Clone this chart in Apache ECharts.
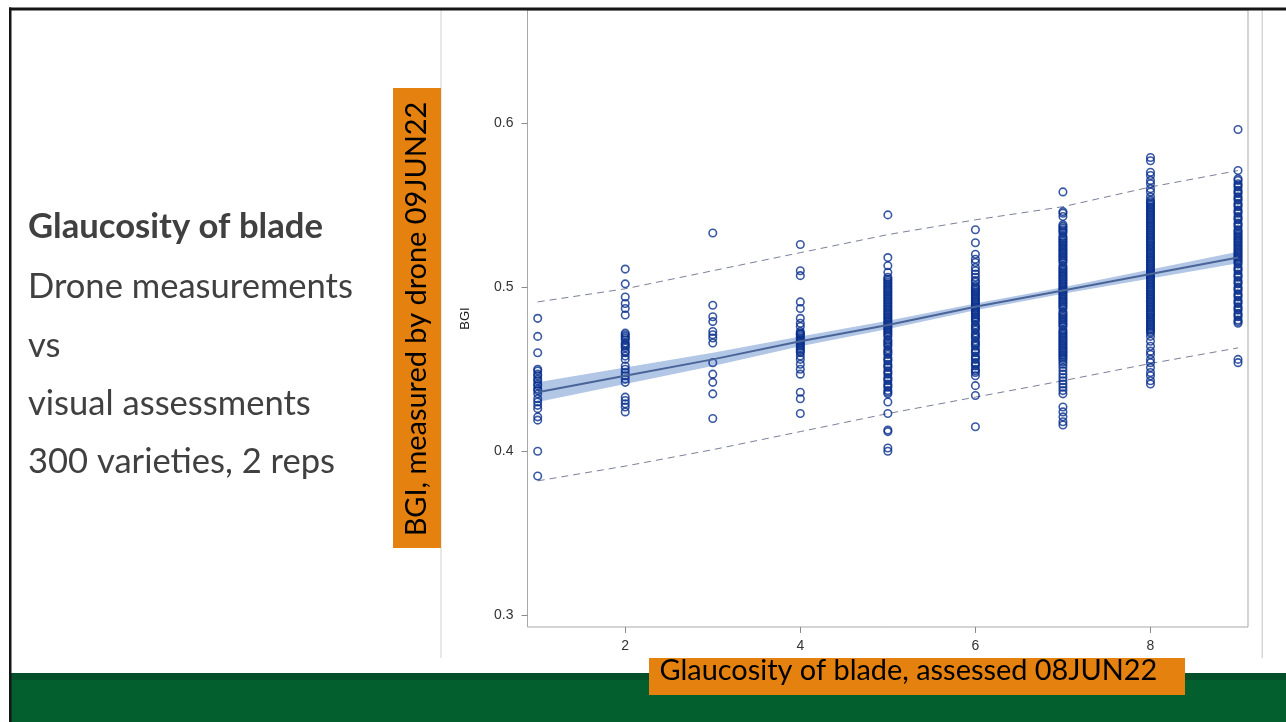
<!DOCTYPE html>
<html><head><meta charset="utf-8">
<script src="https://cdn.jsdelivr.net/npm/echarts@6/dist/echarts.min.js"></script>
<style>html,body{margin:0;padding:0;background:#fff}#c{width:1286px;height:722px}</style>
</head><body><div id="c"></div>
<script>
// ---- data ----
const scores = [1, 2, 3, 4, 5, 6, 7, 8, 9];
const bgiAt1 = [0.481, 0.470, 0.460, 0.450, 0.449, 0.447, 0.446, 0.444, 0.443, 0.441, 0.440, 0.438, 0.437, 0.435, 0.432, 0.430, 0.428, 0.426, 0.421, 0.419, 0.400, 0.385];
const bgiAt2 = [0.511, 0.502, 0.494, 0.490, 0.487, 0.483, 0.472, 0.471, 0.470, 0.469, 0.468, 0.466, 0.465, 0.464, 0.463, 0.461, 0.460, 0.458, 0.456, 0.452, 0.450, 0.448, 0.446, 0.444, 0.442, 0.433, 0.431, 0.429, 0.427, 0.424];
const bgiAt3 = [0.533, 0.489, 0.482, 0.479, 0.473, 0.471, 0.469, 0.466, 0.454, 0.447, 0.442, 0.435, 0.420];
const bgiAt4 = [0.526, 0.510, 0.507, 0.491, 0.487, 0.481, 0.478, 0.476, 0.473, 0.472, 0.4715, 0.471, 0.470, 0.469, 0.468, 0.467, 0.466, 0.465, 0.464, 0.463, 0.462, 0.461, 0.460, 0.458, 0.456, 0.453, 0.450, 0.447, 0.436, 0.432, 0.423];
const bgiAt5 = [0.544, 0.518, 0.513, 0.509, 0.506, 0.505, 0.504, 0.503, 0.502, 0.501, 0.500, 0.499, 0.498, 0.497, 0.496, 0.495, 0.494, 0.493, 0.492, 0.491, 0.490, 0.489, 0.488, 0.487, 0.486, 0.485, 0.484, 0.483, 0.482, 0.481, 0.480, 0.479, 0.478, 0.477, 0.476, 0.475, 0.474, 0.473, 0.472, 0.471, 0.470, 0.468, 0.467, 0.466, 0.465, 0.464, 0.462, 0.461, 0.460, 0.459, 0.457, 0.456, 0.455, 0.453, 0.452, 0.451, 0.449, 0.448, 0.447, 0.445, 0.444, 0.443, 0.441, 0.440, 0.439, 0.437, 0.436, 0.435, 0.430, 0.423, 0.413, 0.412, 0.402, 0.400];
const bgiAt6 = [0.535, 0.527, 0.520, 0.517, 0.515, 0.512, 0.510, 0.508, 0.506, 0.504, 0.503, 0.501, 0.500, 0.499, 0.498, 0.497, 0.496, 0.495, 0.494, 0.493, 0.492, 0.491, 0.490, 0.489, 0.488, 0.487, 0.486, 0.485, 0.484, 0.483, 0.482, 0.481, 0.480, 0.479, 0.477, 0.476, 0.475, 0.474, 0.472, 0.471, 0.470, 0.469, 0.467, 0.466, 0.465, 0.464, 0.462, 0.461, 0.460, 0.458, 0.457, 0.456, 0.454, 0.453, 0.452, 0.450, 0.449, 0.448, 0.446, 0.440, 0.434, 0.415];
const bgiAt7 = [0.558, 0.546, 0.545, 0.543, 0.538, 0.537, 0.536, 0.535, 0.534, 0.533, 0.531, 0.530, 0.529, 0.528, 0.527, 0.526, 0.525, 0.524, 0.523, 0.522, 0.521, 0.520, 0.519, 0.518, 0.517, 0.516, 0.515, 0.513, 0.512, 0.511, 0.510, 0.509, 0.508, 0.507, 0.506, 0.505, 0.504, 0.503, 0.502, 0.501, 0.500, 0.499, 0.498, 0.497, 0.496, 0.495, 0.494, 0.493, 0.492, 0.491, 0.490, 0.489, 0.488, 0.487, 0.485, 0.484, 0.483, 0.482, 0.481, 0.480, 0.479, 0.478, 0.477, 0.476, 0.474, 0.473, 0.472, 0.471, 0.470, 0.469, 0.468, 0.467, 0.466, 0.465, 0.464, 0.463, 0.462, 0.461, 0.460, 0.459, 0.458, 0.457, 0.456, 0.4545, 0.453, 0.451, 0.449, 0.447, 0.445, 0.443, 0.441, 0.439, 0.437, 0.435, 0.427, 0.424, 0.421, 0.418, 0.416];
const bgiAt8 = [0.579, 0.577, 0.570, 0.568, 0.565, 0.563, 0.560, 0.558, 0.555, 0.553, 0.552, 0.551, 0.550, 0.549, 0.548, 0.547, 0.546, 0.545, 0.544, 0.543, 0.542, 0.541, 0.540, 0.539, 0.538, 0.537, 0.536, 0.535, 0.534, 0.533, 0.532, 0.531, 0.530, 0.529, 0.528, 0.527, 0.526, 0.525, 0.524, 0.523, 0.522, 0.521, 0.520, 0.519, 0.518, 0.517, 0.516, 0.515, 0.514, 0.513, 0.512, 0.511, 0.510, 0.509, 0.508, 0.507, 0.506, 0.505, 0.504, 0.503, 0.502, 0.501, 0.500, 0.499, 0.498, 0.497, 0.496, 0.495, 0.494, 0.493, 0.492, 0.491, 0.490, 0.489, 0.488, 0.487, 0.486, 0.485, 0.484, 0.483, 0.482, 0.481, 0.480, 0.479, 0.478, 0.477, 0.476, 0.475, 0.474, 0.473, 0.472, 0.470, 0.467, 0.464, 0.461, 0.459, 0.456, 0.454, 0.451, 0.448, 0.446, 0.443, 0.441];
const bgiAt9 = [0.596, 0.571, 0.566, 0.565, 0.563, 0.562, 0.561, 0.559, 0.558, 0.557, 0.555, 0.554, 0.553, 0.551, 0.550, 0.549, 0.547, 0.546, 0.545, 0.543, 0.542, 0.541, 0.539, 0.538, 0.537, 0.535, 0.534, 0.533, 0.532, 0.531, 0.530, 0.529, 0.528, 0.527, 0.526, 0.525, 0.524, 0.523, 0.522, 0.521, 0.520, 0.519, 0.518, 0.517, 0.516, 0.515, 0.514, 0.512, 0.511, 0.510, 0.508, 0.507, 0.506, 0.504, 0.503, 0.502, 0.500, 0.499, 0.498, 0.496, 0.495, 0.494, 0.492, 0.491, 0.490, 0.488, 0.487, 0.486, 0.484, 0.483, 0.482, 0.480, 0.479, 0.478, 0.456, 0.454];
const fitY = [0.436, 0.446, 0.456, 0.467, 0.477, 0.488, 0.498, 0.508, 0.518];
const clUpper = [0.442, 0.451, 0.460, 0.470, 0.4795, 0.490, 0.500, 0.5107, 0.5215];
const clLower = [0.430, 0.441, 0.452, 0.464, 0.4745, 0.486, 0.496, 0.5053, 0.5145];
const predUpper = [0.491, 0.499, 0.510, 0.521, 0.532, 0.541, 0.549, 0.561, 0.571];
const predLower = [0.382, 0.391, 0.401, 0.412, 0.423, 0.433, 0.443, 0.4535, 0.463];
const yTicks = [0.3, 0.4, 0.5, 0.6];
const xTicks = [2, 4, 6, 8];
const sideLines = ['Glaucosity of blade', 'Drone measurements', 'vs', 'visual assessments', '300 varieties, 2 reps'];
const yTitle = 'BGI, measured by drone 09JUN22';
const xTitle = 'Glaucosity of blade, assessed 08JUN22';
const yAxisName = 'BGI';

// ---- build ----
const columns = [bgiAt1, bgiAt2, bgiAt3, bgiAt4, bgiAt5, bgiAt6, bgiAt7, bgiAt8, bgiAt9];
const points = columns.flatMap((col, i) => col.map(v => [scores[i], v]));
const pair = arr => scores.map((x, i) => [x, arr[i]]);
const bandData = scores.map((x, i) => [x, clLower[i], clUpper[i]]);

const mctx = document.createElement('canvas').getContext('2d');
function fitSize(text, weight, family, target) {
  mctx.font = weight + ' 100px ' + family;
  return 100 * target / mctx.measureText(text).width;
}
const FAM = 'Lato';
const regSize = fitSize(sideLines[1], 'normal', FAM, 325);
const boldSize = fitSize(sideLines[0], 'bold', FAM, 295);
const vSize = fitSize(yTitle, 'normal', FAM, 435);
const hSize = fitSize(xTitle, 'normal', FAM, 498);
const lineCenters = [227, 287, 346, 404, 462];

const graphics = [
  { type: 'rect', shape: { x: 11, y: 673, width: 1275, height: 49 }, style: { fill: '#035f2d' }, z: 10 },
  { type: 'rect', shape: { x: 11, y: 673, width: 1275, height: 7 }, style: { fill: '#04502b' }, z: 10 },
  { type: 'rect', shape: { x: 9, y: 7.5, width: 1277, height: 3 }, style: { fill: '#151515' }, z: 12 },
  { type: 'rect', shape: { x: 9, y: 7.5, width: 2.5, height: 715 }, style: { fill: '#151515' }, z: 12 },
  { type: 'rect', shape: { x: 440.5, y: 10, width: 1, height: 648 }, style: { fill: '#d2d2d2' }, z: 5 },
  { type: 'rect', shape: { x: 1261.5, y: 10, width: 1.5, height: 648 }, style: { fill: '#d8d8d8' }, z: 5 },
  { type: 'rect', shape: { x: 393, y: 88, width: 48, height: 460 }, style: { fill: '#e5820f' }, z: 11 },
  { type: 'text', x: 417, y: 319, rotation: Math.PI / 2, z: 12,
    style: { text: yTitle, font: 'normal ' + vSize + 'px ' + FAM, fill: '#000', align: 'center', verticalAlign: 'middle' } },
  { type: 'rect', shape: { x: 649, y: 658, width: 536, height: 37 }, style: { fill: '#e5820f' }, z: 11 },
  { type: 'text', x: 659.5, y: 671, z: 12,
    style: { text: xTitle, font: 'normal ' + hSize + 'px ' + FAM, fill: '#000', align: 'left', verticalAlign: 'middle' } }
];
sideLines.forEach((t, i) => {
  graphics.push({ type: 'text', x: 28, y: lineCenters[i], z: 12,
    style: { text: t, font: (i === 0 ? 'bold ' + boldSize : 'normal ' + regSize) + 'px ' + FAM,
      fill: '#404040', align: 'left', verticalAlign: 'middle' } });
});

const chart = echarts.init(document.getElementById('c'), null, { renderer: 'canvas' });
const labelFont = { fontFamily: 'Liberation Sans', fontSize: 14, color: '#333' };
chart.setOption({
  animation: false,
  backgroundColor: '#fff',
  grid: { left: 527.5, right: 38, top: 10, bottom: 95, show: true, borderColor: '#a8a8a8', borderWidth: 1, backgroundColor: 'transparent' },
  xAxis: {
    type: 'value', min: 0.8835, max: 9.114,
    axisLine: { show: false },
    splitLine: { show: false },
    axisTick: { show: true, length: 6, lineStyle: { color: '#8a8a8a' }, customValues: xTicks },
    axisLabel: Object.assign({ margin: 12, customValues: xTicks, formatter: v => String(v) }, labelFont)
  },
  yAxis: {
    type: 'value', min: 0.293, max: 0.6688,
    name: yAxisName, nameLocation: 'middle', nameGap: 56, nameRotate: 90,
    nameTextStyle: { fontFamily: 'Liberation Sans', fontSize: 13, color: '#222' },
    axisLine: { show: false },
    splitLine: { show: false },
    axisTick: { show: true, length: 6, lineStyle: { color: '#8a8a8a' }, customValues: yTicks },
    axisLabel: Object.assign({ margin: 14, customValues: yTicks, formatter: v => v.toFixed(1) }, labelFont)
  },
  graphic: graphics,
  series: [
    { type: 'custom', data: bandData, silent: true, z: 1,
      renderItem: function (params, api) {
        if (params.dataIndex !== 0) return null;
        const up = bandData.map(d => api.coord([d[0], d[2]]));
        const lo = bandData.map(d => api.coord([d[0], d[1]])).reverse();
        return { type: 'polygon', shape: { points: up.concat(lo) }, style: { fill: '#b2c6e6' } };
      } },
    { type: 'line', data: pair(predUpper), symbol: 'none', lineStyle: { color: '#7b8099', width: 1, type: [7, 5] }, z: 2 },
    { type: 'line', data: pair(predLower), symbol: 'none', lineStyle: { color: '#7b8099', width: 1, type: [7, 5] }, z: 2 },
    { type: 'scatter', data: points, symbol: 'circle', symbolSize: 7.5, large: false,
      itemStyle: { color: 'rgba(0,0,0,0)', borderColor: '#082e8c', borderWidth: 1.6 }, z: 3 },
    { type: 'line', data: pair(fitY), symbol: 'none', lineStyle: { color: '#4a6497', width: 2 }, z: 4 }
  ]
});
</script>
</body></html>
